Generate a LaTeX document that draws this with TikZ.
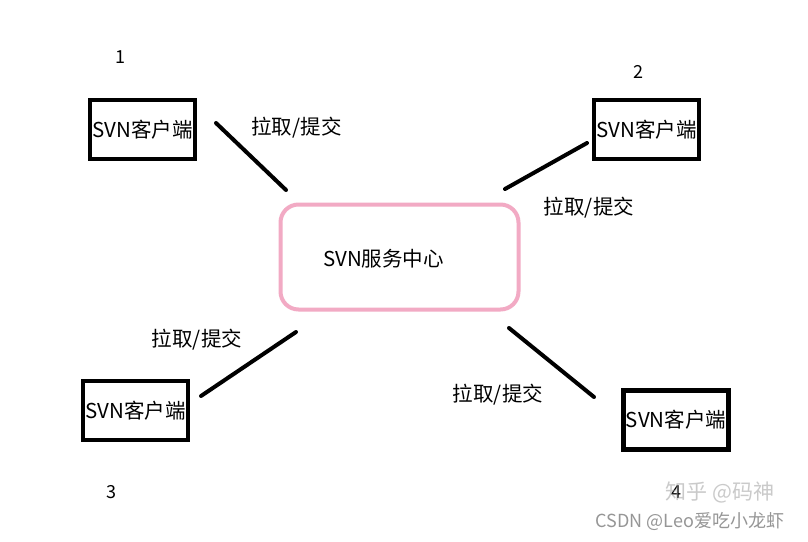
\documentclass[tikz,border=0pt]{standalone}
\usepackage{fontspec}
\setmainfont{Noto Sans CJK SC}
\begin{document}
\begin{tikzpicture}[x=1pt,y=-1pt,
  txt/.style={font=\fontsize{20.5}{24}\selectfont},
  client/.style={txt,draw=black,line width=4.5pt,minimum width=105pt,minimum height=59pt,inner sep=0pt},
  hub/.style={draw={rgb,255:red,242;green,170;blue,196},line width=4pt,rounded corners=18pt,minimum width=238pt,minimum height=105pt},
  link/.style={line width=4pt,line cap=round},
  lbl/.style={txt,inner sep=0pt},
  num/.style={font=\fontsize{18}{21}\selectfont,inner sep=0pt},
  wm/.style={text={rgb,255:red,150;green,150;blue,150},inner sep=0pt}]
\useasboundingbox[fill=white] (0,0) rectangle (808,541);
\node[hub] (c) at (399.5,257) {};
\node[lbl] (ct) at (383.5,259) {SVN服务中心};
\node[client] (k1) at (142.5,129.5) {SVN客户端};
\node[client] (k2) at (646.5,129.5) {SVN客户端};
\node[client] (k3) at (135.5,410.5) {SVN客户端};
\node[client] (k4) at (676,420) {SVN客户端};
\node[num] (n1) at (120,57) {1};
\node[num] (n2) at (638,72) {2};
\node[num] (n3) at (111,492) {3};
\node[num] (n4) at (676,492) {4};
\node[lbl] (l1) at (296.5,128) {拉取/提交};
\node[lbl] (l2) at (589,208) {拉取/提交};
\node[lbl] (l3) at (197,340) {拉取/提交};
\node[lbl] (l4) at (498,395) {拉取/提交};
\coordinate (a1) at (216,123); \coordinate (b1) at (286,190);
\coordinate (a2) at (587,143); \coordinate (b2) at (505,189);
\coordinate (a3) at (296,332); \coordinate (b3) at (201,396);
\coordinate (a4) at (509,328); \coordinate (b4) at (594,397);
\draw[link] (a1) -- (b1);
\draw[link] (a2) -- (b2);
\draw[link] (a3) -- (b3);
\draw[link] (a4) -- (b4);
\node[wm,font=\fontsize{21}{24}\selectfont,opacity=0.5] (w1) at (720,492) {知乎 @码神};
\node[wm,font=\fontsize{18}{21}\selectfont] (w2) at (690,521) {CSDN @Leo爱吃小龙虾};
\end{tikzpicture}
\end{document}
